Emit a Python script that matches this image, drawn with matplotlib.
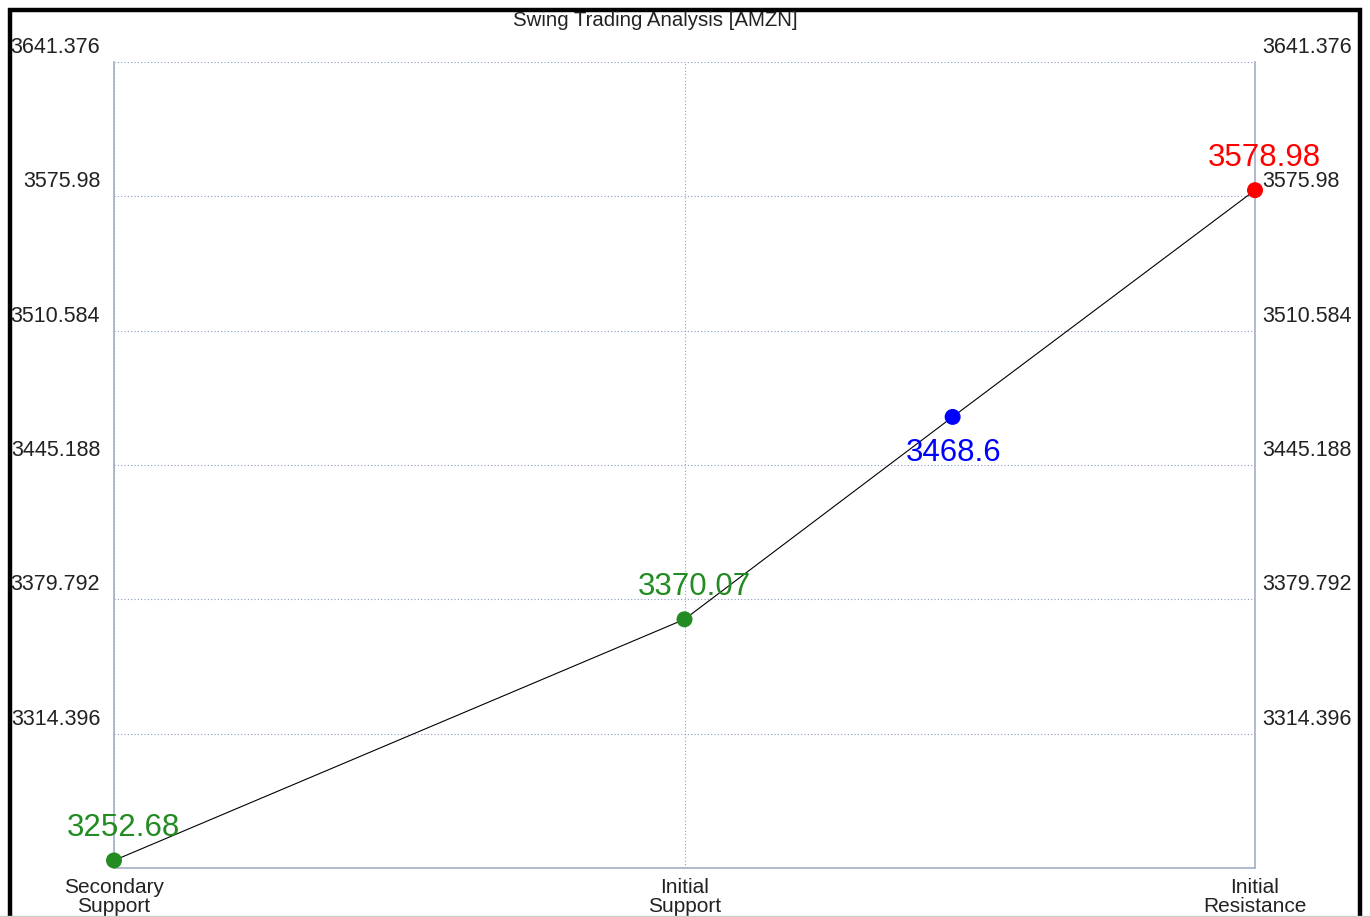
import matplotlib
matplotlib.use("Agg")
import matplotlib.pyplot as plt
from matplotlib.transforms import ScaledTranslation
from matplotlib.patches import Rectangle

plt.rcParams['font.family'] = ['Liberation Sans', 'DejaVu Sans']

# levels, in drawing order
level_names = ["Secondary\nSupport", "Initial\nSupport", "Initial\nResistance"]
level_pos = [0, 1, 2]
point_x = [0, 1, 1.47, 2]
point_y = [3252.68, 3370.07, 3468.6, 3578.98]
point_labels = ["3252.68", "3370.07", "3468.6", "3578.98"]
point_colors = ["#228B22", "#228B22", "#0000FF", "#FF0000"]
label_side = ["above", "above", "below", "above"]
y_ticks = [3249.0, 3314.396, 3379.792, 3445.188, 3510.584, 3575.98, 3641.376]
y_tick_labels = ["", "3314.396", "3379.792", "3445.188", "3510.584", "3575.98", "3641.376"]

fig = plt.figure(figsize=(13.7, 9.17), dpi=100)
W, H = 1370, 917
ax = fig.add_axes([114 / W, (H - 868) / H, 1141 / W, 806 / H])

grid_col = "#8a9cc2"
spine_col = "#a3aec6"

ax.set_xlim(0, 2)
ax.set_ylim(y_ticks[0], y_ticks[-1])
ax.set_xticks(level_pos)
ax.set_xticklabels(level_names, fontsize=15, color="#222222", linespacing=1.05)
ax.set_yticks(y_ticks)
ax.set_yticklabels(y_tick_labels, fontsize=15.5, color="#222222")
ax.tick_params(axis="y", length=0, pad=10, labelright=True)
ax.tick_params(axis="x", length=0, pad=7)

# tick labels sit above their grid lines
for t in ax.yaxis.get_major_ticks():
    t.label1.set_transform(t.label1.get_transform() + ScaledTranslation(0, 17 / 100, fig.dpi_scale_trans))
    t.label2.set_transform(t.label2.get_transform() + ScaledTranslation(-7 / 100, 17 / 100, fig.dpi_scale_trans))

ax.grid(True, color=grid_col, linestyle=(0, (1, 2)), linewidth=0.8)
ax.spines["top"].set_visible(False)
for s in ["left", "right", "bottom"]:
    ax.spines[s].set_color(spine_col)
    ax.spines[s].set_linewidth(1.2)

ax.plot(point_x, point_y, color="black", linewidth=0.8, zorder=3, clip_on=False)
ax.scatter(point_x, point_y, color=point_colors, s=110, zorder=4, clip_on=False)

for x, y, txt, c, side in zip(point_x, point_y, point_labels, point_colors, label_side):
    if side == "above":
        off = (7, 23)
    else:
        off = (1, -26)
    ax.annotate(txt, (x, y), xytext=off, textcoords="offset points",
                ha="center", va="center", fontsize=22.5, color=c, zorder=5)

fig.text(655 / W, 1 - 20 / H, "Swing Trading Analysis [AMZN]", ha="center", va="center",
         fontsize=14.7, color="#222222")

# outer frame
fig.patches.append(Rectangle((9.5 / W, -0.05), (1360 - 9.5) / W, 1.05 - 10 / H,
                             transform=fig.transFigure, fill=False,
                             edgecolor="black", linewidth=3.2))
fig.add_artist(plt.Line2D([0, 1], [1.5 / H, 1.5 / H], transform=fig.transFigure,
                          color="#cccccc", linewidth=1))

fig.savefig("out.png", dpi=100)
